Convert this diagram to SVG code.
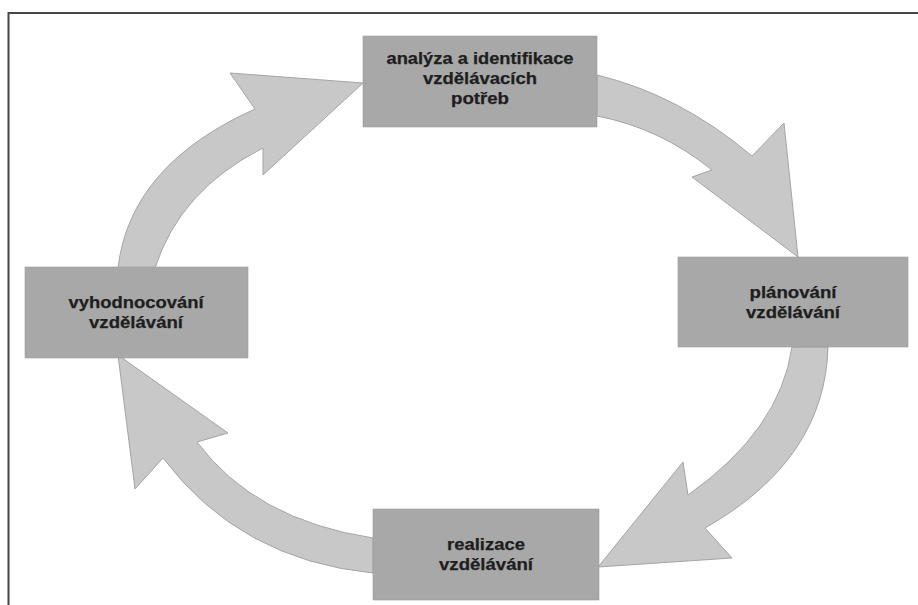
<svg xmlns="http://www.w3.org/2000/svg" width="918" height="605" viewBox="0 0 918 605">
<style>
.frame{fill:none;stroke:#474747;stroke-width:2}
.arrow{fill:#c8c8c8;stroke:#a4a4a4;stroke-width:1;stroke-linejoin:miter}
.box{fill:#a8a8a8;stroke:#9c9c9c;stroke-width:0.6}
.lbl{font-family:"Liberation Sans",Arial,sans-serif;font-weight:bold;font-size:16px;fill:#1e1e1e;text-anchor:middle;stroke:#1e1e1e;stroke-width:0.25}
</style>
<rect width="918" height="605" fill="#ffffff"/>
<path class="frame" d="M8.5,606 L8.5,13 L918,13"/>
<g id="connectors">
<path id="arrow-analyza-planovani" class="arrow" d="M597,75 Q680,95 752,156 L784,123 L798,257 L692,177 L712,170 Q660,128 597,116 Z"/>
<path id="arrow-planovani-realizace" class="arrow" d="M828,347 Q825,460 705,528 L732,558 L598,567 L683,462 L688,495 Q780,430 792,347 Z"/>
<path id="arrow-realizace-vyhodnocovani" class="arrow" d="M373,538 Q255,520 197,442 L228,433 L118,355 L135,489 L163,458 Q240,560 373,573 Z"/>
<path id="arrow-vyhodnocovani-analyza" class="arrow" d="M118,268 Q130,165 255,109 L230,73 L363,83 L263,175 L263,148 Q180,190 155,268 Z"/>
</g>
<g id="node-analyza">
<rect class="box" x="363" y="36" width="234" height="91"/>
<text class="lbl" x="480" y="64" textLength="187" lengthAdjust="spacingAndGlyphs">analýza a identifikace</text>
<text class="lbl" x="480" y="84" textLength="114" lengthAdjust="spacingAndGlyphs">vzdělávacích</text>
<text class="lbl" x="480" y="104" textLength="58" lengthAdjust="spacingAndGlyphs">potřeb</text>
</g>
<g id="node-planovani">
<rect class="box" x="678" y="257" width="230" height="90"/>
<text class="lbl" x="793" y="298" textLength="87" lengthAdjust="spacingAndGlyphs">plánování</text>
<text class="lbl" x="793" y="318" textLength="94" lengthAdjust="spacingAndGlyphs">vzdělávání</text>
</g>
<g id="node-realizace">
<rect class="box" x="373" y="509" width="226" height="91"/>
<text class="lbl" x="486" y="550" textLength="78" lengthAdjust="spacingAndGlyphs">realizace</text>
<text class="lbl" x="486" y="570" textLength="94" lengthAdjust="spacingAndGlyphs">vzdělávání</text>
</g>
<g id="node-vyhodnocovani">
<rect class="box" x="25" y="267" width="223" height="91"/>
<text class="lbl" x="136" y="308" textLength="135" lengthAdjust="spacingAndGlyphs">vyhodnocování</text>
<text class="lbl" x="136" y="328" textLength="94" lengthAdjust="spacingAndGlyphs">vzdělávání</text>
</g>
</svg>
